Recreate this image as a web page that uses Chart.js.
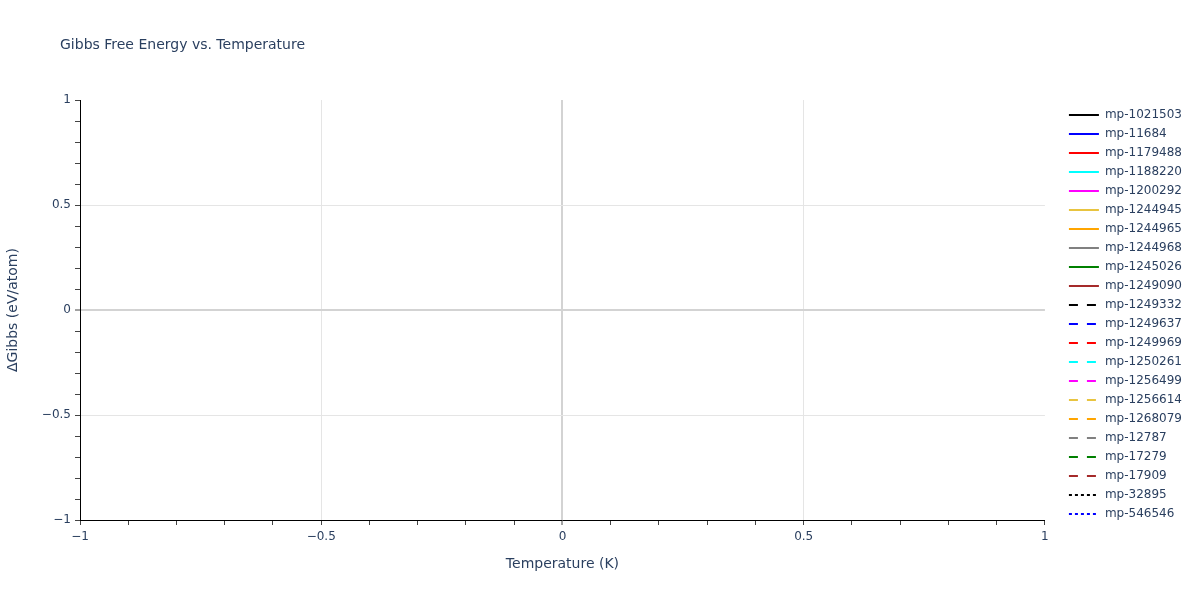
<!DOCTYPE html>
<html>
<head>
<meta charset="utf-8">
<script src="https://cdn.jsdelivr.net/npm/chart.js@4.4.1/dist/chart.umd.min.js"></script>
<style>
html,body{margin:0;padding:0;background:#fff;}
#wrap{width:1200px;height:600px;position:relative;}
</style>
</head>
<body>
<div id="wrap"><canvas id="c" width="1200" height="600"></canvas></div>
<script>
const chartTitle = 'Gibbs Free Energy vs. Temperature';
const xAxisTitle = 'Temperature (K)';
const yAxisTitle = 'ΔGibbs (eV/atom)';

const seriesNames = [
  'mp-1021503','mp-11684','mp-1179488','mp-1188220','mp-1200292',
  'mp-1244945','mp-1244965','mp-1244968','mp-1245026','mp-1249090',
  'mp-1249332','mp-1249637','mp-1249969','mp-1250261','mp-1256499',
  'mp-1256614','mp-1268079','mp-12787','mp-17279','mp-17909',
  'mp-32895','mp-546546'
];
const seriesColors = [
  '#000000','#0000ff','#ff0000','#00ffff','#ff00ff',
  '#e8c440','#ffa500','#808080','#008000','#a52a2a',
  '#000000','#0000ff','#ff0000','#00ffff','#ff00ff',
  '#e8c440','#ffa500','#808080','#008000','#a52a2a',
  '#000000','#0000ff'
];
const seriesDashStyles = [
  'solid','solid','solid','solid','solid','solid','solid','solid','solid','solid',
  'dash','dash','dash','dash','dash','dash','dash','dash','dash','dash',
  'dot','dot'
];
// The reference shows no plotted data: every series is empty.
const seriesValues = [
  [],[],[],[],[],[],[],[],[],[],[],[],[],[],[],[],[],[],[],[],[],[]
];

const xRange = [-1, 1];
const yRange = [-1, 1];
const xMajorTicks = [-1, -0.5, 0, 0.5, 1];
const xTickLabels = ['\u22121', '\u22120.5', '0', '0.5', '1'];
const yMajorTicks = [-1, -0.5, 0, 0.5, 1];
const yTickLabels = ['\u22121', '\u22120.5', '0', '0.5', '1'];
const minorStep = 0.1;

const dashPatterns = { solid: [], dash: [9, 9], dot: [3, 3] };
const textColor = '#2a3f5f';
const fontFamily = '"DejaVu Sans", Verdana, sans-serif';

function majorIndex(v, majors) {
  const r = Math.round(v * 100);
  return majors.findIndex(m => Math.round(m * 100) === r);
}
function gridColorFor(v, majors) {
  const i = majorIndex(v, majors);
  if (i < 0) return 'rgba(0,0,0,0)';
  const m = majors[i];
  if (m === 0) return '#d3d3d3';
  if (i === 0 || i === majors.length - 1) return 'rgba(0,0,0,0)';
  return '#e5e5e5';
}

const datasets = seriesNames.map((name, i) => ({
  label: name,
  data: seriesValues[i],
  borderColor: seriesColors[i],
  backgroundColor: seriesColors[i],
  borderWidth: 2,
  borderDash: dashPatterns[seriesDashStyles[i]],
  pointRadius: 0,
  fill: false
}));

const titlePlugin = {
  id: 'plotTitle',
  afterDraw(chart) {
    const ctx = chart.ctx;
    ctx.save();
    ctx.font = '14px ' + fontFamily;
    ctx.fillStyle = textColor;
    ctx.textBaseline = 'middle';
    ctx.textAlign = 'left';
    ctx.fillText(chartTitle, 60, 45);
    ctx.restore();
  }
};

new Chart(document.getElementById('c'), {
  type: 'line',
  data: { datasets },
  plugins: [titlePlugin],
  options: {
    responsive: false,
    animation: false,
    devicePixelRatio: 1,
    layout: { padding: { left: 0, top: 100, right: 8, bottom: 0 } },
    plugins: {
      title: { display: false },
      tooltip: { enabled: false },
      legend: {
        display: true,
        position: 'right',
        align: 'start',
        title: { display: true, text: ' ', font: { size: 2, lineHeight: 1 }, padding: 0 },
        labels: {
          usePointStyle: true,
          pointStyle: 'line',
          pointStyleWidth: 30,
          padding: 7,
          color: textColor,
          font: { family: fontFamily, size: 12 },
          generateLabels() {
            return seriesNames.map((n, i) => ({
              text: n,
              strokeStyle: seriesColors[i],
              fillStyle: seriesColors[i],
              lineWidth: 2,
              lineDash: dashPatterns[seriesDashStyles[i]],
              pointStyle: 'line',
              hidden: false,
              datasetIndex: i,
              fontColor: textColor
            }));
          }
        }
      }
    },
    scales: {
      x: {
        type: 'linear',
        position: 'bottom',
        min: xRange[0],
        max: xRange[1],
        afterFit(s) { s.height = 80; },
        ticks: {
          stepSize: minorStep,
          autoSkip: false,
          maxRotation: 0,
          padding: 5,
          color: textColor,
          font: { family: fontFamily, size: 12 },
          callback(v) {
            const i = majorIndex(v, xMajorTicks);
            return i < 0 ? '' : xTickLabels[i];
          }
        },
        grid: {
          drawTicks: true,
          tickLength: 5,
          color: ctx => gridColorFor(ctx.tick.value, xMajorTicks),
          lineWidth: ctx => (majorIndex(ctx.tick.value, xMajorTicks) === 2 ? 2 : 1),
          tickColor: '#444',
          tickWidth: 1
        },
        border: { display: true, color: '#000000', width: 1 },
        title: {
          display: true,
          text: xAxisTitle,
          color: textColor,
          font: { family: fontFamily, size: 14 },
          padding: { top: 0, bottom: 27 }
        }
      },
      y: {
        type: 'linear',
        position: 'left',
        min: yRange[0],
        max: yRange[1],
        afterFit(s) { s.width = 80; },
        ticks: {
          stepSize: minorStep,
          autoSkip: false,
          padding: 4,
          color: textColor,
          font: { family: fontFamily, size: 12 },
          callback(v) {
            const i = majorIndex(v, yMajorTicks);
            return i < 0 ? '' : yTickLabels[i];
          }
        },
        grid: {
          drawTicks: true,
          tickLength: 5,
          color: ctx => gridColorFor(ctx.tick.value, yMajorTicks),
          lineWidth: ctx => (majorIndex(ctx.tick.value, yMajorTicks) === 2 ? 2 : 1),
          tickColor: '#444',
          tickWidth: 1
        },
        border: { display: true, color: '#000000', width: 1 },
        title: {
          display: true,
          text: yAxisTitle,
          color: textColor,
          font: { family: fontFamily, size: 14 },
          padding: { top: 5, bottom: 0 }
        }
      },
      gap: {
        type: 'linear',
        axis: 'y',
        position: 'right',
        display: true,
        afterFit(s) { s.width = 17; },
        grid: { display: false },
        border: { display: false },
        ticks: { display: false },
        title: { display: false }
      }
    }
  }
});
</script>
</body>
</html>
